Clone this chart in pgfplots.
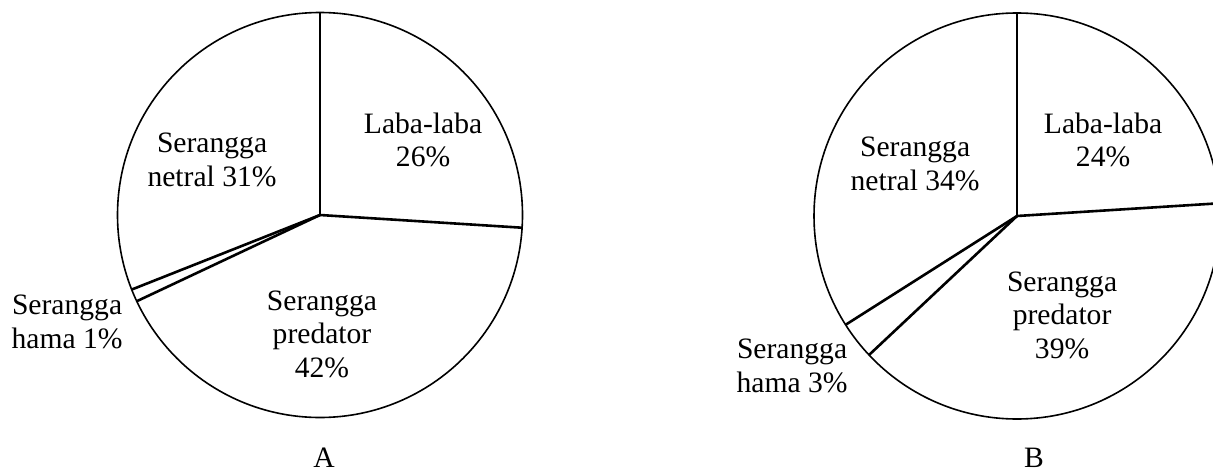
\documentclass[border=0pt]{standalone}
\usepackage{pgfplots}
\pgfplotsset{compat=1.18}
\usepackage{fontspec}
\setmainfont{Liberation Serif}
\tikzset{lab/.style={align=center, font=\fontsize{14.8}{16.8}\selectfont, inner sep=0pt}}
\pgfplotsset{pie/.style={hide axis, scale only axis, clip=false,
  xmin=-1, xmax=1, ymin=-1, ymax=1, anchor=center}}
\begin{document}
\begin{tikzpicture}
\useasboundingbox (0,0) rectangle (606.5pt,236pt);
% ---- Chart A: Laba-laba 26, Serangga predator 42, Serangga hama 1, Serangga netral 31 (clockwise from top)
\begin{axis}[pie, width=202.5pt, height=202.5pt, at={(160pt,128.5pt)}]
\draw[line width=0.8pt] (axis cs:0,0) circle[radius=101.25pt];
\addplot[black, line width=1.3pt] coordinates {(0,0) (0,1)};            % 90 deg
\addplot[black, line width=1.3pt] coordinates {(0,0) (0.99803,-0.06279)}; % 90-26*3.6
\addplot[black, line width=1.3pt] coordinates {(0,0) (-0.90483,-0.42578)}; % after 42
\addplot[black, line width=1.3pt] coordinates {(0,0) (-0.92978,-0.36812)}; % after 1
\node[lab] at (axis cs:0.509,0.370) {Laba-laba\\26\%};
\node[lab] at (axis cs:-0.533,0.272) {Serangga\\netral 31\%};
\node[lab] at (axis cs:0.010,-0.588) {Serangga\\predator\\42\%};
\node[lab] at (axis cs:-1.249,-0.528) {Serangga\\hama 1\%};
\node[lab] at (axis cs:0.02,-1.200) {A};
\end{axis}
% ---- Chart B: Laba-laba 24, Serangga predator 39, Serangga hama 3, Serangga netral 34
\begin{axis}[pie, width=203pt, height=203pt, at={(508.5pt,128pt)}]
\draw[line width=0.8pt] (axis cs:0,0) circle[radius=101.5pt];
\addplot[black, line width=1.3pt] coordinates {(0,0) (0,1)};
\addplot[black, line width=1.3pt] coordinates {(0,0) (0.99803,0.06279)};  % 90-24*3.6
\addplot[black, line width=1.3pt] coordinates {(0,0) (-0.72897,-0.68455)}; % after 39
\addplot[black, line width=1.3pt] coordinates {(0,0) (-0.84433,-0.53583)}; % after 3
\node[lab] at (axis cs:0.424,0.374) {Laba-laba\\24\%};
\node[lab] at (axis cs:-0.502,0.256) {Serangga\\netral 34\%};
\node[lab] at (axis cs:0.222,-0.488) {Serangga\\predator\\39\%};
\node[lab] at (axis cs:-1.108,-0.739) {Serangga\\hama 3\%};
\node[lab] at (axis cs:0.084,-1.190) {B};
\end{axis}
\end{tikzpicture}
\end{document}
